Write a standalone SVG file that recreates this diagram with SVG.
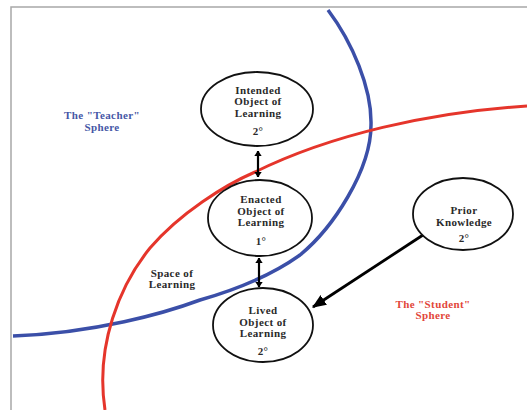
<svg xmlns="http://www.w3.org/2000/svg" width="527" height="410" viewBox="0 0 527 410">
  <style>
    .node ellipse { fill: #ffffff; stroke: #111111; stroke-width: 1.8; }
    .lbl { font-family: "Liberation Serif", "Times New Roman", serif; font-weight: bold; font-size: 11px; letter-spacing: 0.4px; text-anchor: middle; fill: #2a2a2a; }
    .blue { fill: #4657a6; }
    .red { fill: #e2463b; }
    .conn { stroke: #000000; fill: none; }
  </style>
  <defs>
    <marker id="ah" viewBox="0 0 6 8" refX="5.5" refY="4" markerWidth="2.7" markerHeight="3.6" orient="auto-start-reverse" markerUnits="strokeWidth">
      <path d="M0,0 L6,4 L0,8 z" fill="#000"/>
    </marker>
    <marker id="ahBig" viewBox="0 0 12 10" refX="11" refY="5" markerWidth="5" markerHeight="4.2" orient="auto" markerUnits="strokeWidth">
      <path d="M0,0 L12,5 L0,10 z" fill="#000"/>
    </marker>
  </defs>
  <rect width="527" height="410" fill="#ffffff"/>
  <path d="M11,410 V7 H527" fill="none" stroke="#a8a8a8" stroke-width="1.5"/>

  <g id="spheres" fill="none">
    <path id="teacher-sphere" d="M328,10 C352,42 372,88 371,125 C371,170 333,228 300,255 C272,275 235,290 200,300 C165,313 95,333 13,336" stroke="#3b4fa8" stroke-width="3.5"/>
    <path id="student-sphere" d="M527,106 C430,112 330,135 255,172 C225,185 180,213 150,248 C120,285 95,345 105,410" stroke="#e5352b" stroke-width="3"/>
  </g>

  <g id="connectors">
    <line class="conn" x1="258" y1="151" x2="258" y2="177" stroke-width="2.2" marker-start="url(#ah)" marker-end="url(#ah)"/>
    <line class="conn" x1="259" y1="258" x2="259" y2="287" stroke-width="2.2" marker-start="url(#ah)" marker-end="url(#ah)"/>
    <line class="conn" x1="423" y1="235" x2="313" y2="307" stroke-width="2.8" marker-end="url(#ahBig)"/>
  </g>

  <g id="intended" class="node">
    <ellipse cx="257" cy="109" rx="56" ry="37"/>
    <text class="lbl" x="258" y="93.5">Intended</text>
    <text class="lbl" x="258" y="105">Object of</text>
    <text class="lbl" x="258" y="116.5">Learning</text>
    <text class="lbl" x="258" y="135">2°</text>
  </g>
  <g id="enacted" class="node">
    <ellipse cx="260" cy="218" rx="52" ry="38"/>
    <text class="lbl" x="261" y="203">Enacted</text>
    <text class="lbl" x="261" y="214.5">Object of</text>
    <text class="lbl" x="261" y="226">Learning</text>
    <text class="lbl" x="261" y="244.5">1°</text>
  </g>
  <g id="lived" class="node">
    <ellipse cx="263" cy="325" rx="50" ry="37"/>
    <text class="lbl" x="263" y="314">Lived</text>
    <text class="lbl" x="263" y="325.5">Object of</text>
    <text class="lbl" x="263" y="337">Learning</text>
    <text class="lbl" x="263" y="355">2°</text>
  </g>
  <g id="prior" class="node">
    <ellipse cx="463" cy="214" rx="50" ry="36"/>
    <text class="lbl" x="464" y="214">Prior</text>
    <text class="lbl" x="464" y="226">Knowledge</text>
    <text class="lbl" x="464" y="242">2°</text>
  </g>

  <g id="labels">
    <text class="lbl blue" x="102" y="119">The "Teacher"</text>
    <text class="lbl blue" x="102" y="130.5">Sphere</text>
    <text class="lbl red" x="433" y="308">The "Student"</text>
    <text class="lbl red" x="433" y="319">Sphere</text>
    <text class="lbl" x="172" y="276.5">Space of</text>
    <text class="lbl" x="172" y="287.5">Learning</text>
  </g>
</svg>
